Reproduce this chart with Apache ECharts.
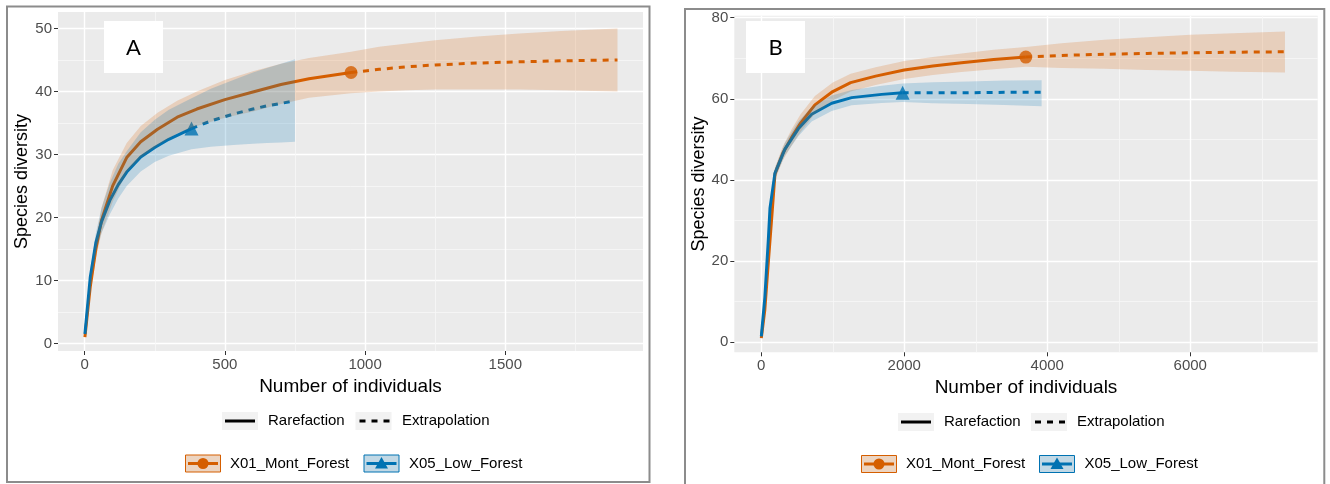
<!DOCTYPE html>
<html><head><meta charset="utf-8">
<script src="https://cdn.jsdelivr.net/npm/echarts@6/dist/echarts.min.js"></script>
<style>html,body{margin:0;padding:0;background:#fff}#c{width:1330px;height:484px}</style>
</head><body><div id="c"></div>
<script>
// ---------- DATA ----------
const siteNames = ['X01_Mont_Forest', 'X05_Low_Forest'];
const methodNames = ['Rarefaction', 'Extrapolation'];

// Panel A ticks
const A_xTicks = [0, 500, 1000, 1500];
const A_xMinor = [250, 750, 1250, 1750];
const A_yTicks = [0, 10, 20, 30, 40, 50];
const A_yMinor = [5, 15, 25, 35, 45];
// Panel B ticks
const B_xTicks = [0, 2000, 4000, 6000];
const B_xMinor = [1000, 3000, 5000, 7000];
const B_yTicks = [0, 20, 40, 60, 80];
const B_yMinor = [10, 30, 50, 70];

// Panel A — X01_Mont_Forest
const A_mont_rare_x  = [1, 20, 40, 60, 100, 150, 200, 260, 330, 400, 500, 600, 700, 800, 950];
const A_mont_rare_y  = [1, 9, 15, 19.5, 25, 29.5, 32, 34, 35.9, 37.2, 38.7, 39.9, 41.1, 42.0, 43.0];
const A_mont_rare_lo = [1, 8, 13.5, 17.5, 22.5, 27.2, 29.5, 31.4, 33.3, 34.5, 35.8, 36.8, 38, 39, 39.7];
const A_mont_rare_hi = [1, 10, 16.5, 21.5, 27.5, 31.8, 34.5, 36.6, 38.5, 40, 41.8, 43.2, 44.4, 45.3, 46.3];
const A_mont_ext_x  = [950, 1050, 1150, 1250, 1400, 1550, 1700, 1900];
const A_mont_ext_y  = [43.0, 43.5, 43.9, 44.2, 44.5, 44.7, 44.85, 45.0];
const A_mont_ext_lo = [39.7, 40.0, 40.2, 40.3, 40.3, 40.3, 40.2, 40.0];
const A_mont_ext_hi = [46.3, 47.1, 47.6, 48.1, 48.7, 49.2, 49.6, 50.0];
// Panel A — X05_Low_Forest
const A_low_rare_x  = [1, 20, 40, 60, 90, 120, 150, 200, 250, 300, 381];
const A_low_rare_y  = [1.5, 10.5, 16.0, 19.3, 22.7, 25.2, 27.2, 29.6, 31.1, 32.4, 34.1];
const A_low_rare_lo = [1.5, 9.5, 14.5, 17.5, 20.5, 23, 25, 27.3, 28.8, 29.8, 30.8];
const A_low_rare_hi = [1.5, 11.5, 17.5, 21.5, 25.5, 28.5, 30.5, 33.5, 35.5, 37.1, 38.9];
const A_low_ext_x  = [381, 450, 530, 600, 650, 700, 750];
const A_low_ext_y  = [34.1, 35.3, 36.4, 37.2, 37.7, 38.1, 38.5];
const A_low_ext_lo = [30.8, 31.2, 31.5, 31.7, 31.8, 31.9, 32.0];
const A_low_ext_hi = [38.9, 40.4, 41.8, 43.0, 43.7, 44.4, 45.1];

// Panel B — X01_Mont_Forest
const B_mont_rare_x  = [1, 50, 100, 150, 192, 300, 425, 550, 750, 1000, 1250, 1600, 2000, 2400, 2800, 3250, 3700];
const B_mont_rare_y  = [1, 8, 20, 31.5, 41.5, 46.5, 50.5, 54, 58.5, 61.8, 64, 65.6, 67.1, 68.1, 68.9, 69.7, 70.3];
const B_mont_rare_lo = [1, 7.5, 19, 30.5, 40, 44.8, 48.5, 51.8, 56.3, 59.6, 61.8, 63.4, 64.9, 65.9, 66.6, 67.3, 67.9];
const B_mont_rare_hi = [1, 8.5, 21, 32.5, 43, 48.2, 52.5, 56.2, 60.7, 64, 66.2, 67.8, 69.3, 70.3, 71.2, 72.1, 72.8];
const B_mont_ext_x  = [3700, 4200, 4800, 5400, 6000, 6600, 7324];
const B_mont_ext_y  = [70.3, 70.7, 71.0, 71.2, 71.35, 71.5, 71.6];
const B_mont_ext_lo = [67.9, 67.6, 67.4, 67.1, 66.9, 66.7, 66.5];
const B_mont_ext_hi = [72.8, 73.7, 74.6, 75.2, 75.8, 76.2, 76.6];
// Panel B — X05_Low_Forest
const B_low_rare_x  = [1, 50, 98, 122, 192, 331, 518, 705, 985, 1264, 1684, 1977];
const B_low_rare_y  = [1.4, 11, 25, 33, 41.7, 47.6, 52.6, 56.2, 58.9, 60.3, 61.1, 61.5];
const B_low_rare_lo = [1.4, 10.5, 24, 32, 40.4, 46, 50.8, 54.4, 57.0, 58.4, 59.0, 59.2];
const B_low_rare_hi = [1.4, 11.5, 26, 34, 43, 49.2, 54.4, 58.0, 60.8, 62.2, 63.2, 63.8];
const B_low_ext_x  = [1977, 2400, 2900, 3400, 3921];
const B_low_ext_y  = [61.5, 61.5, 61.5, 61.6, 61.6];
const B_low_ext_lo = [59.2, 58.9, 58.7, 58.5, 58.2];
const B_low_ext_hi = [63.8, 64.1, 64.3, 64.5, 64.6];

// ---------- STYLE ----------
const ORANGE = '#D55E00', BLUE = '#0072B2';
const ORANGE_BAND = 'rgba(213,94,0,0.2)', BLUE_BAND = 'rgba(0,114,178,0.2)';
const FONT = '"Liberation Sans", Arial, sans-serif';

const chart = echarts.init(document.getElementById('c'), null, {renderer: 'canvas'});

function pairs(xs, ys) { return xs.map((x, i) => [x, ys[i]]); }

function bandSeries(xs1, lo1, hi1, xs2, lo2, hi2, fill, axisIdx) {
  const data = xs1.map((x, i) => [x, lo1[i], hi1[i]])
    .concat(xs2.slice(1).map((x, i) => [x, lo2[i + 1], hi2[i + 1]]));
  return {
    type: 'custom', xAxisIndex: axisIdx, yAxisIndex: axisIdx, data: data, z: 4, silent: true,
    encode: {x: 0, y: [1, 2]},
    renderItem: function (params, api) {
      if (params.dataIndex !== 0) return null;
      const top = data.map(d => api.coord([d[0], d[2]]));
      const bot = data.map(d => api.coord([d[0], d[1]])).reverse();
      return {type: 'polygon', shape: {points: top.concat(bot)}, style: {fill: fill}};
    }
  };
}

function lineSeries(name, xs, ys, color, dashed, axisIdx) {
  return {
    type: 'line', name: name, xAxisIndex: axisIdx, yAxisIndex: axisIdx,
    data: pairs(xs, ys), showSymbol: false, smooth: false, z: 2, silent: true,
    lineStyle: {color: color, width: 3, type: dashed ? [6, 6] : 'solid', cap: 'butt', join: 'round'}
  };
}

function markerSeries(name, xs, ys, color, symbol, size, axisIdx) {
  const i = xs.length - 1;
  return {
    type: 'scatter', name: name, xAxisIndex: axisIdx, yAxisIndex: axisIdx,
    data: [[xs[i], ys[i]]], symbol: symbol, symbolSize: size, z: 3, silent: true,
    itemStyle: {color: color}
  };
}

function majorAxis(gridIndex, min, max, ticks, name, nameGap, nameSize, isX) {
  return {
    type: 'value', gridIndex: gridIndex, min: min, max: max,
    axisLine: {show: false, onZero: false},
    axisTick: {show: true, customValues: ticks, length: 4, lineStyle: {color: '#333333', width: 1}},
    axisLabel: {show: true, customValues: ticks, color: '#4D4D4D', fontSize: 15, fontFamily: FONT,
                margin: isX ? 6 : 6, formatter: v => String(v)},
    splitLine: {show: true, lineStyle: {color: '#FFFFFF', width: 1.4}},
    name: name, nameLocation: 'middle', nameGap: nameGap,
    nameTextStyle: {color: '#000000', fontSize: nameSize, fontFamily: FONT}
  };
}
function minorAxis(gridIndex, min, max, ticks) {
  return {
    type: 'value', gridIndex: gridIndex, min: min, max: max,
    axisLine: {show: false, onZero: false},
    axisTick: {show: false, customValues: ticks},
    axisLabel: {show: false, customValues: ticks},
    splitLine: {show: true, lineStyle: {color: '#F7F7F7', width: 0.8}}
  };
}

// ---------- LEGEND (graphic) ----------
function legendGraphics(L) {
  const g = [];
  const t = (text, x, y) => ({type: 'text', z: 110, style: {text: text, x: x, y: y, fill: '#000', font: '15px ' + FONT, verticalAlign: 'middle', align: 'left'}});
  g.push({type: 'rect', z: 105, shape: {x: L.r1k1, y: L.r1y - 9, width: 36, height: 18}, style: {fill: '#F2F2F2'}});
  g.push({type: 'line', z: 106, shape: {x1: L.r1k1 + 3, y1: L.r1y, x2: L.r1k1 + 33, y2: L.r1y}, style: {stroke: '#000', lineWidth: 3}});
  g.push(t(methodNames[0], L.r1t1, L.r1y));
  g.push({type: 'rect', z: 105, shape: {x: L.r1k2, y: L.r1y - 9, width: 36, height: 18}, style: {fill: '#F2F2F2'}});
  g.push({type: 'line', z: 106, shape: {x1: L.r1k2 + 4, y1: L.r1y, x2: L.r1k2 + 34, y2: L.r1y}, style: {stroke: '#000', lineWidth: 3, lineDash: [6, 6]}});
  g.push(t(methodNames[1], L.r1t2, L.r1y));
  const keys = [[L.r2k1, ORANGE, ORANGE_BAND, 'circle', L.r2t1, siteNames[0]], [L.r2k2, BLUE, BLUE_BAND, 'triangle', L.r2t2, siteNames[1]]];
  keys.forEach(k => {
    const [x, col, band, sym, tx, label] = k;
    const y = L.r2y;
    g.push({type: 'rect', z: 105, shape: {x: x + 0.5, y: y - 8.5, width: 35, height: 17}, style: {fill: '#F2F2F2'}});
    g.push({type: 'rect', z: 106, shape: {x: x + 0.5, y: y - 8.5, width: 35, height: 17}, style: {fill: band, stroke: col, lineWidth: 1}});
    g.push({type: 'line', z: 107, shape: {x1: x + 3, y1: y, x2: x + 33, y2: y}, style: {stroke: col, lineWidth: 3}});
    if (sym === 'circle') {
      g.push({type: 'circle', z: 108, shape: {cx: x + 18, cy: y, r: 5.5}, style: {fill: col}});
    } else {
      g.push({type: 'polygon', z: 108, shape: {points: [[x + 18, y - 6.5], [x + 24.5, y + 5], [x + 11.5, y + 5]]}, style: {fill: col}});
    }
    g.push(t(label, tx, y));
  });
  return g;
}

const graphics = [
  {type: 'rect', z: 100, shape: {x: 7, y: 6.5, width: 642.5, height: 475.5}, style: {fill: null, stroke: '#8C8C8C', lineWidth: 2}},
  {type: 'rect', z: 100, shape: {x: 685, y: 9, width: 639.3, height: 480}, style: {fill: null, stroke: '#8C8C8C', lineWidth: 2}},
  {type: 'rect', z: 100, shape: {x: 104, y: 21, width: 59, height: 52}, style: {fill: '#FFFFFF'}},
  {type: 'text', z: 101, style: {text: 'A', x: 133.5, y: 48, fill: '#000', font: '22px Lato, "Open Sans", sans-serif', align: 'center', verticalAlign: 'middle'}},
  {type: 'rect', z: 100, shape: {x: 746, y: 21, width: 59, height: 52}, style: {fill: '#FFFFFF'}},
  {type: 'text', z: 101, style: {text: 'B', x: 775.5, y: 48, fill: '#000', font: '22px Lato, "Open Sans", sans-serif', align: 'center', verticalAlign: 'middle'}}
].concat(
  legendGraphics({r1y: 421, r1k1: 222, r1t1: 268, r1k2: 355.5, r1t2: 402, r2y: 463.5, r2k1: 185, r2t1: 230, r2k2: 363.5, r2t2: 409}),
  legendGraphics({r1y: 422, r1k1: 898, r1t1: 944, r1k2: 1031, r1t2: 1077, r2y: 464, r2k1: 861, r2t1: 906, r2k2: 1039, r2t2: 1084.5})
);

const option = {
  animation: false,
  backgroundColor: '#FFFFFF',
  grid: [
    {left: 58, top: 12, width: 585, height: 339, show: true, backgroundColor: '#EBEBEB', borderWidth: 0},
    {left: 734.3, top: 15.7, width: 583.4, height: 336.6, show: true, backgroundColor: '#EBEBEB', borderWidth: 0}
  ],
  xAxis: [
    majorAxis(0, -95, 1991, A_xTicks, 'Number of individuals', 22, 19, true),
    majorAxis(1, -377, 7782, B_xTicks, 'Number of individuals', 22, 19, true),
    minorAxis(0, -95, 1991, A_xMinor),
    minorAxis(1, -377, 7782, B_xMinor)
  ],
  yAxis: [
    majorAxis(0, -1.2, 52.6, A_yTicks, 'Species diversity', 27, 18, false),
    majorAxis(1, -2.5, 80.5, B_yTicks, 'Species diversity', 24, 18, false),
    minorAxis(0, -1.2, 52.6, A_yMinor),
    minorAxis(1, -2.5, 80.5, B_yMinor)
  ],
  graphic: graphics,
  series: [
    lineSeries(siteNames[0], A_mont_rare_x, A_mont_rare_y, ORANGE, false, 0),
    lineSeries(siteNames[0], A_mont_ext_x, A_mont_ext_y, ORANGE, true, 0),
    lineSeries(siteNames[1], A_low_rare_x, A_low_rare_y, BLUE, false, 0),
    lineSeries(siteNames[1], A_low_ext_x, A_low_ext_y, BLUE, true, 0),
    markerSeries(siteNames[0], A_mont_rare_x, A_mont_rare_y, ORANGE, 'circle', 13, 0),
    markerSeries(siteNames[1], A_low_rare_x, A_low_rare_y, BLUE, 'triangle', 14, 0),
    bandSeries(A_mont_rare_x, A_mont_rare_lo, A_mont_rare_hi, A_mont_ext_x, A_mont_ext_lo, A_mont_ext_hi, ORANGE_BAND, 0),
    bandSeries(A_low_rare_x, A_low_rare_lo, A_low_rare_hi, A_low_ext_x, A_low_ext_lo, A_low_ext_hi, BLUE_BAND, 0),
    lineSeries(siteNames[0], B_mont_rare_x, B_mont_rare_y, ORANGE, false, 1),
    lineSeries(siteNames[0], B_mont_ext_x, B_mont_ext_y, ORANGE, true, 1),
    lineSeries(siteNames[1], B_low_rare_x, B_low_rare_y, BLUE, false, 1),
    lineSeries(siteNames[1], B_low_ext_x, B_low_ext_y, BLUE, true, 1),
    markerSeries(siteNames[0], B_mont_rare_x, B_mont_rare_y, ORANGE, 'circle', 13, 1),
    markerSeries(siteNames[1], B_low_rare_x, B_low_rare_y, BLUE, 'triangle', 14, 1),
    bandSeries(B_mont_rare_x, B_mont_rare_lo, B_mont_rare_hi, B_mont_ext_x, B_mont_ext_lo, B_mont_ext_hi, ORANGE_BAND, 1),
    bandSeries(B_low_rare_x, B_low_rare_lo, B_low_rare_hi, B_low_ext_x, B_low_ext_lo, B_low_ext_hi, BLUE_BAND, 1)
  ]
};
chart.setOption(option);
</script>
</body></html>
